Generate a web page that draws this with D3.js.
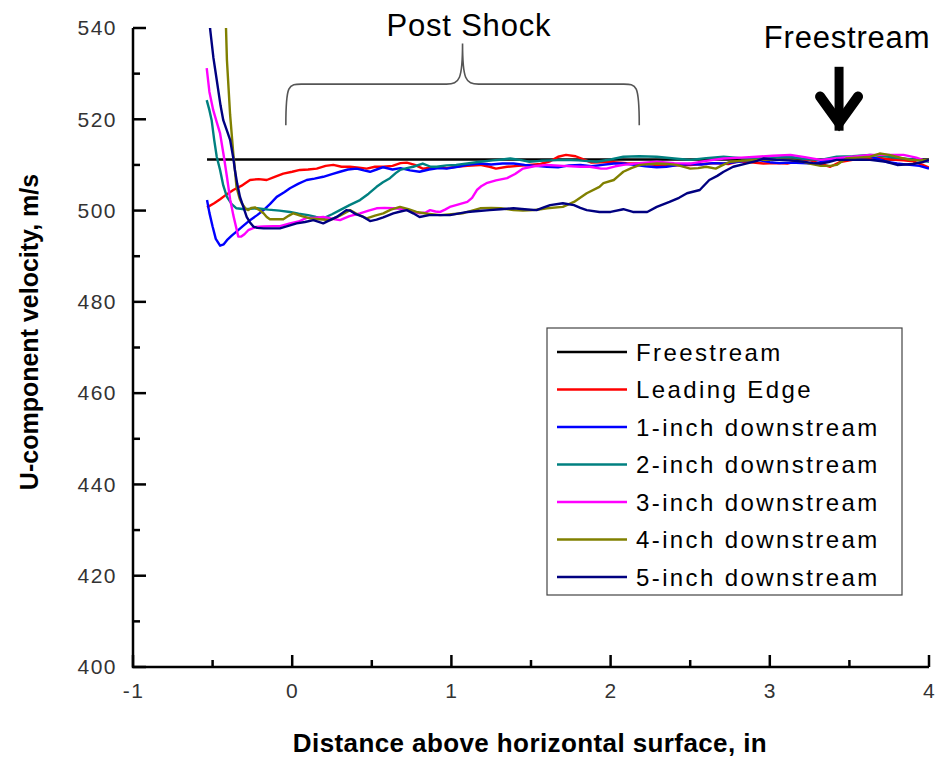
<!DOCTYPE html>
<html>
<head>
<meta charset="utf-8">
<script src="https://cdn.jsdelivr.net/npm/d3@7"></script>
<style>
  body { margin: 0; background: #fff; }
  svg { display: block; }
</style>
</head>
<body>
<div id="wrapper"></div>
<script>
// values: [distance (in), velocity (m/s)]
const freestream = [[-0.535, 511.2], [4.0, 511.2]];

const leadingEdge = [[-0.535,500.7],[-0.49,501.6],[-0.453,502.5],[-0.41,503.6],[-0.37,504.5],[-0.32,505.4],[-0.265,506.7],[-0.21,506.9],[-0.16,506.7],[-0.11,507.4],[-0.056,508.1],[0.0,508.5],[0.049,508.9],[0.1,509.0],[0.154,509.2],[0.21,509.8],[0.258,510.0],[0.31,509.6],[0.363,509.6],[0.42,509.4],[0.468,509.2],[0.52,509.6],[0.572,509.6],[0.63,509.8],[0.68,510.4],[0.72,510.5],[0.77,510.0],[0.82,509.2],[0.87,509.4],[0.93,509.5],[0.97,509.3],[1.03,509.6],[1.1,509.8],[1.18,510.0],[1.24,509.6],[1.28,509.2],[1.35,509.6],[1.42,509.8],[1.49,510.0],[1.56,510.2],[1.62,510.8],[1.67,511.8],[1.72,512.2],[1.78,511.9],[1.83,511.2],[1.88,510.5],[1.95,510.6],[2.02,510.6],[2.1,510.4],[2.18,510.3],[2.26,510.1],[2.34,509.8],[2.42,509.9],[2.5,510.0],[2.58,510.2],[2.66,510.4],[2.74,510.2],[2.8,510.8],[2.88,510.6],[2.96,510.3],[3.04,510.4],[3.11,510.3],[3.17,510.8],[3.25,511.1],[3.32,510.2],[3.38,509.6],[3.44,510.6],[3.52,511.1],[3.6,511.4],[3.68,511.6],[3.76,511.2],[3.84,511.0],[3.9,510.8],[3.96,510.0],[4.0,509.4]];

const inch1 = [[-0.535,502.3],[-0.52,499.5],[-0.5,496.5],[-0.48,493.8],[-0.453,492.3],[-0.43,492.6],[-0.41,493.5],[-0.38,494.5],[-0.35,495.4],[-0.31,496.6],[-0.265,497.9],[-0.22,499.0],[-0.18,500.1],[-0.14,501.4],[-0.097,503.0],[-0.05,504.0],[-0.014,504.9],[0.04,505.9],[0.091,506.7],[0.14,507.0],[0.195,507.4],[0.25,508.0],[0.30,508.5],[0.35,509.0],[0.405,509.2],[0.45,508.8],[0.489,508.5],[0.53,509.0],[0.572,509.5],[0.63,509.0],[0.68,509.3],[0.74,508.8],[0.80,508.5],[0.86,509.0],[0.92,509.3],[0.97,509.2],[1.04,509.6],[1.1,510.0],[1.18,510.3],[1.25,510.1],[1.32,510.3],[1.39,510.3],[1.46,510.0],[1.53,509.8],[1.60,509.6],[1.67,509.5],[1.74,509.9],[1.81,510.0],[1.88,509.7],[1.95,510.0],[2.02,510.3],[2.08,510.3],[2.15,510.0],[2.22,509.7],[2.29,509.5],[2.35,509.6],[2.43,510.0],[2.5,510.2],[2.57,510.1],[2.64,510.4],[2.71,510.3],[2.78,510.6],[2.85,510.9],[2.92,511.1],[3.0,510.6],[3.06,510.4],[3.13,510.5],[3.2,510.4],[3.27,510.3],[3.35,510.8],[3.42,511.4],[3.5,511.5],[3.57,511.6],[3.63,511.8],[3.68,511.3],[3.73,510.7],[3.8,510.3],[3.88,510.0],[3.94,509.8],[4.0,509.2]];

const inch2 = [[-0.537,524.2],[-0.52,522.0],[-0.506,519.8],[-0.49,515.5],[-0.474,511.8],[-0.453,508.9],[-0.433,505.5],[-0.41,503.0],[-0.38,501.4],[-0.35,500.5],[-0.3,500.3],[-0.22,500.5],[-0.15,500.2],[-0.08,500.0],[-0.014,499.7],[0.04,499.3],[0.1,499.0],[0.15,498.6],[0.195,498.3],[0.25,499.2],[0.30,500.1],[0.36,501.2],[0.426,502.3],[0.48,503.7],[0.53,505.2],[0.57,506.2],[0.614,507.1],[0.65,508.2],[0.677,508.9],[0.72,509.3],[0.76,509.6],[0.82,510.3],[0.87,509.6],[0.907,509.6],[0.97,509.9],[1.03,510.0],[1.1,510.3],[1.18,510.7],[1.26,511.0],[1.32,511.2],[1.37,511.4],[1.43,511.1],[1.49,510.7],[1.56,510.9],[1.63,511.0],[1.70,511.1],[1.8,511.0],[1.91,510.7],[2.0,511.2],[2.08,511.8],[2.18,511.9],[2.29,511.8],[2.4,511.4],[2.5,511.1],[2.6,511.5],[2.71,511.8],[2.82,511.5],[2.92,511.4],[3.02,511.6],[3.13,511.8],[3.22,511.3],[3.32,511.1],[3.42,511.8],[3.52,511.9],[3.63,512.2],[3.72,511.9],[3.84,511.4],[3.92,511.1],[4.0,510.7]];

const inch3 = [[-0.537,531.2],[-0.52,526.0],[-0.496,522.0],[-0.475,519.5],[-0.453,516.9],[-0.43,512.0],[-0.41,507.4],[-0.39,502.5],[-0.37,499.0],[-0.35,496.0],[-0.339,494.3],[-0.32,494.3],[-0.3,494.8],[-0.276,495.7],[-0.23,496.4],[-0.18,496.5],[-0.12,496.6],[-0.077,496.6],[-0.014,497.2],[0.04,497.6],[0.091,498.4],[0.14,498.4],[0.195,498.6],[0.25,498.2],[0.30,497.9],[0.36,498.8],[0.426,499.4],[0.48,500.0],[0.53,500.5],[0.58,500.6],[0.635,500.5],[0.68,500.4],[0.72,500.1],[0.76,499.8],[0.80,499.4],[0.84,499.6],[0.866,500.1],[0.9,499.8],[0.93,499.7],[0.96,500.2],[0.99,500.8],[1.04,501.3],[1.10,501.9],[1.13,502.8],[1.16,504.5],[1.19,505.4],[1.22,506.0],[1.28,506.6],[1.35,507.1],[1.40,508.0],[1.45,509.2],[1.52,509.7],[1.60,510.0],[1.7,509.8],[1.81,509.6],[1.87,509.6],[1.94,509.2],[1.975,509.2],[2.03,509.7],[2.08,510.0],[2.18,510.4],[2.29,510.7],[2.4,510.4],[2.5,510.3],[2.6,510.9],[2.71,511.4],[2.82,511.6],[2.92,511.8],[3.02,512.0],[3.13,512.2],[3.22,511.7],[3.32,511.1],[3.42,511.5],[3.52,511.8],[3.63,512.2],[3.74,512.2],[3.84,512.2],[3.92,511.6],[3.96,511.1],[4.0,510.9]];

const inch4 = [[-0.42,545],[-0.41,533.0],[-0.39,521.0],[-0.37,512.5],[-0.36,509.0],[-0.35,505.2],[-0.33,502.6],[-0.317,501.6],[-0.295,500.5],[-0.276,500.1],[-0.255,500.6],[-0.234,500.7],[-0.21,500.2],[-0.18,499.4],[-0.16,498.6],[-0.14,498.1],[-0.1,498.1],[-0.056,498.1],[-0.02,498.9],[0.007,499.4],[0.06,498.8],[0.112,498.3],[0.17,498.1],[0.237,497.9],[0.3,498.9],[0.363,500.1],[0.41,499.2],[0.468,498.3],[0.52,498.9],[0.572,499.4],[0.62,500.2],[0.677,500.8],[0.73,500.3],[0.78,499.7],[0.85,499.3],[0.93,499.0],[1.0,499.2],[1.07,499.4],[1.13,500.0],[1.18,500.5],[1.25,500.6],[1.31,500.5],[1.39,500.1],[1.45,500.0],[1.515,500.1],[1.56,500.3],[1.60,500.5],[1.70,500.8],[1.77,501.9],[1.85,503.8],[1.93,505.2],[1.955,506.0],[2.02,506.7],[2.05,507.6],[2.08,508.5],[2.13,509.3],[2.185,510.0],[2.29,510.3],[2.36,510.2],[2.415,510.0],[2.5,509.2],[2.55,509.3],[2.6,509.6],[2.66,509.2],[2.7,509.9],[2.75,510.7],[2.82,510.9],[2.92,511.1],[3.02,511.1],[3.13,511.1],[3.2,510.8],[3.25,510.3],[3.32,509.8],[3.38,509.8],[3.42,510.0],[3.48,511.4],[3.55,511.6],[3.63,511.8],[3.69,512.5],[3.75,512.2],[3.82,511.6],[3.88,511.1],[3.94,511.0],[4.0,511.1]];

const inch5 = [[-0.525,545],[-0.516,539.9],[-0.495,533.5],[-0.474,528.6],[-0.45,523.0],[-0.433,519.8],[-0.41,517.5],[-0.39,515.5],[-0.37,511.5],[-0.36,508.9],[-0.345,505.8],[-0.328,503.0],[-0.307,500.8],[-0.286,498.6],[-0.265,497.4],[-0.244,496.5],[-0.22,496.2],[-0.18,496.1],[-0.13,496.1],[-0.077,496.1],[-0.03,496.6],[0.028,497.2],[0.08,497.5],[0.133,497.9],[0.195,497.2],[0.237,497.9],[0.28,498.6],[0.34,500.1],[0.363,500.0],[0.4,499.2],[0.447,498.6],[0.489,497.7],[0.53,498.0],[0.572,498.5],[0.635,499.4],[0.68,499.8],[0.72,500.1],[0.76,499.4],[0.80,498.6],[0.86,499.0],[0.907,499.0],[0.99,499.0],[1.05,499.4],[1.10,499.7],[1.17,499.9],[1.24,500.1],[1.31,500.3],[1.39,500.5],[1.46,500.3],[1.535,500.1],[1.58,500.7],[1.62,501.2],[1.70,501.6],[1.77,501.2],[1.81,500.6],[1.85,500.1],[1.93,499.7],[2.0,499.7],[2.08,500.3],[2.14,499.7],[2.23,499.7],[2.29,500.8],[2.37,501.9],[2.43,502.8],[2.48,503.8],[2.56,504.5],[2.62,506.7],[2.67,507.6],[2.71,508.5],[2.77,509.6],[2.85,510.3],[2.92,510.9],[2.96,511.4],[3.04,511.1],[3.13,511.0],[3.21,510.7],[3.27,510.4],[3.32,510.3],[3.37,510.6],[3.42,511.1],[3.52,511.1],[3.63,511.1],[3.73,510.7],[3.80,510.0],[3.90,510.2],[3.96,510.6],[4.0,511.1]];

const seriesNames = ["Freestream", "Leading Edge", "1-inch downstream", "2-inch downstream",
                     "3-inch downstream", "4-inch downstream", "5-inch downstream"];
const seriesData = [freestream, leadingEdge, inch1, inch2, inch3, inch4, inch5];
const seriesColors = ["#000000", "#ff0000", "#0000ff", "#008080", "#ff00ff", "#808000", "#000080"];

const xTicks = [-1, 0, 1, 2, 3, 4];
const xMinorTicks = [-0.5, 0.5, 1.5, 2.5, 3.5];
const yTicks = [400, 420, 440, 460, 480, 500, 520, 540];
const yMinorTicks = [410, 430, 450, 470, 490, 510, 530];

function buildPlot(id) {
    const dimension = {
        width: 941,
        height: 759,
        margin: { top: 28, left: 133, bottom: 92, right: 12 }
    };
    dimension.boundedWidth = dimension.width - dimension.margin.left - dimension.margin.right;
    dimension.boundedHeight = dimension.height - dimension.margin.top - dimension.margin.bottom;

    const svg = d3.select("#" + id).append("svg")
        .attr("width", dimension.width)
        .attr("height", dimension.height)
        .style("font-family", "'Liberation Sans', Arial, sans-serif");

    const bounded = svg.append("g")
        .attr("transform", `translate(${dimension.margin.left}, ${dimension.margin.top})`);

    const xScaler = d3.scaleLinear().domain([-1, 4]).range([0, dimension.boundedWidth]);
    const yScaler = d3.scaleLinear().domain([400, 540]).range([dimension.boundedHeight, 0]);

    bounded.append("clipPath").attr("id", "plotClip")
        .append("rect")
        .attr("width", dimension.boundedWidth)
        .attr("height", dimension.boundedHeight);

    const lineGenerator = d3.line()
        .x(d => xScaler(d[0]))
        .y(d => yScaler(d[1]));

    // series
    const lines = bounded.append("g").attr("clip-path", "url(#plotClip)");
    seriesData.forEach((data, i) => {
        lines.append("path")
            .attr("d", lineGenerator(data))
            .attr("fill", "none")
            .attr("stroke", seriesColors[i])
            .attr("stroke-width", 2.4)
            .attr("stroke-linejoin", "round");
    });

    // axes, ticks pointing inward
    const xAxis = d3.axisBottom(xScaler).tickValues(xTicks).tickSize(0).tickPadding(12)
        .tickFormat(d => d);
    const yAxis = d3.axisLeft(yScaler).tickValues(yTicks).tickSize(0).tickPadding(16);

    const gx = bounded.append("g")
        .attr("transform", `translate(0, ${dimension.boundedHeight})`)
        .call(xAxis);
    const gy = bounded.append("g").call(yAxis);

    [gx, gy].forEach(g => {
        g.select(".domain").remove();
        g.selectAll("text")
            .attr("fill", "#333")
            .style("font-size", "21px")
            .style("letter-spacing", "1.5px");
    });
    gx.selectAll("text").attr("dy", "0.9em");

    const tickG = bounded.append("g").attr("stroke", "#000").attr("stroke-width", 2.5);
    xTicks.forEach(t => tickG.append("line")
        .attr("x1", xScaler(t)).attr("x2", xScaler(t))
        .attr("y1", dimension.boundedHeight).attr("y2", dimension.boundedHeight - 12));
    xMinorTicks.forEach(t => tickG.append("line")
        .attr("x1", xScaler(t)).attr("x2", xScaler(t))
        .attr("y1", dimension.boundedHeight).attr("y2", dimension.boundedHeight - 7));
    yTicks.forEach(t => tickG.append("line")
        .attr("x1", 0).attr("x2", 13)
        .attr("y1", yScaler(t)).attr("y2", yScaler(t)));
    yMinorTicks.forEach(t => tickG.append("line")
        .attr("x1", 0).attr("x2", 7)
        .attr("y1", yScaler(t)).attr("y2", yScaler(t)));
    tickG.append("path")
        .attr("fill", "none")
        .attr("d", `M0,0 V${dimension.boundedHeight} H${dimension.boundedWidth}`);

    // axis titles
    svg.append("text")
        .attr("x", 530)
        .attr("y", 752)
        .attr("text-anchor", "middle")
        .style("font-size", "26px")
        .style("font-weight", "bold")
        .style("letter-spacing", "0.4px")
        .text("Distance above horizontal surface, in");

    svg.append("text")
        .attr("text-anchor", "middle")
        .attr("transform", "translate(38, 332) rotate(-90)")
        .style("font-size", "25px")
        .style("font-weight", "bold")
        .text("U-component velocity, m/s");

    // Post Shock brace
    const bx0 = xScaler(-0.04), bx1 = xScaler(2.18), bxm = xScaler(1.07);
    const byEnd = yScaler(518.7), byBar = yScaler(527.7), byTop = yScaler(536.6);
    bounded.append("path")
        .attr("fill", "none")
        .attr("stroke", "#555")
        .attr("stroke-width", 1.6)
        .attr("d", `M${bx0},${byEnd} C${bx0},${byBar - 2} ${bx0 + 3},${byBar} ${bx0 + 18},${byBar}
                    L${bxm - 16},${byBar} C${bxm - 3},${byBar} ${bxm},${byBar - 5} ${bxm},${byTop}
                    C${bxm},${byBar - 5} ${bxm + 3},${byBar} ${bxm + 16},${byBar}
                    L${bx1 - 18},${byBar} C${bx1 - 3},${byBar} ${bx1},${byBar - 2} ${bx1},${byEnd}`);

    svg.append("text")
        .attr("x", dimension.margin.left + xScaler(1.11))
        .attr("y", 36)
        .attr("text-anchor", "middle")
        .style("font-size", "31px")
        .style("letter-spacing", "0.8px")
        .text("Post Shock");

    // Freestream arrow
    const ax = xScaler(3.435);
    const arrow = bounded.append("g")
        .attr("fill", "none")
        .attr("stroke", "#000");
    arrow.append("path")
        .attr("stroke-width", 9)
        .attr("d", `M${ax},${yScaler(531.5)} V${yScaler(517.5)}`);
    arrow.append("path")
        .attr("stroke-width", 10)
        .attr("stroke-linecap", "round")
        .attr("stroke-linejoin", "miter")
        .attr("d", `M${ax - 19},${yScaler(525.0)} L${ax},${yScaler(519.2)} L${ax + 19},${yScaler(525.0)}`);

    svg.append("text")
        .attr("x", dimension.margin.left + xScaler(3.435) + 8)
        .attr("y", 48)
        .attr("text-anchor", "middle")
        .style("font-size", "31px")
        .style("letter-spacing", "0.8px")
        .text("Freestream");

    // legend
    const legend = svg.append("g").attr("transform", "translate(547, 328)");
    legend.append("rect")
        .attr("width", 355)
        .attr("height", 267)
        .attr("fill", "#fff")
        .attr("stroke", "#444")
        .attr("stroke-width", 1.2);
    seriesNames.forEach((name, i) => {
        const row = legend.append("g").attr("transform", `translate(0, ${24 + i * 37.5})`);
        row.append("line")
            .attr("x1", 10).attr("x2", 80)
            .attr("stroke", seriesColors[i])
            .attr("stroke-width", 2.4);
        row.append("text")
            .attr("x", 89)
            .attr("dy", "0.36em")
            .style("font-size", "24px")
            .style("letter-spacing", "2.4px")
            .text(name);
    });
}

buildPlot("wrapper");
</script>
</body>
</html>
